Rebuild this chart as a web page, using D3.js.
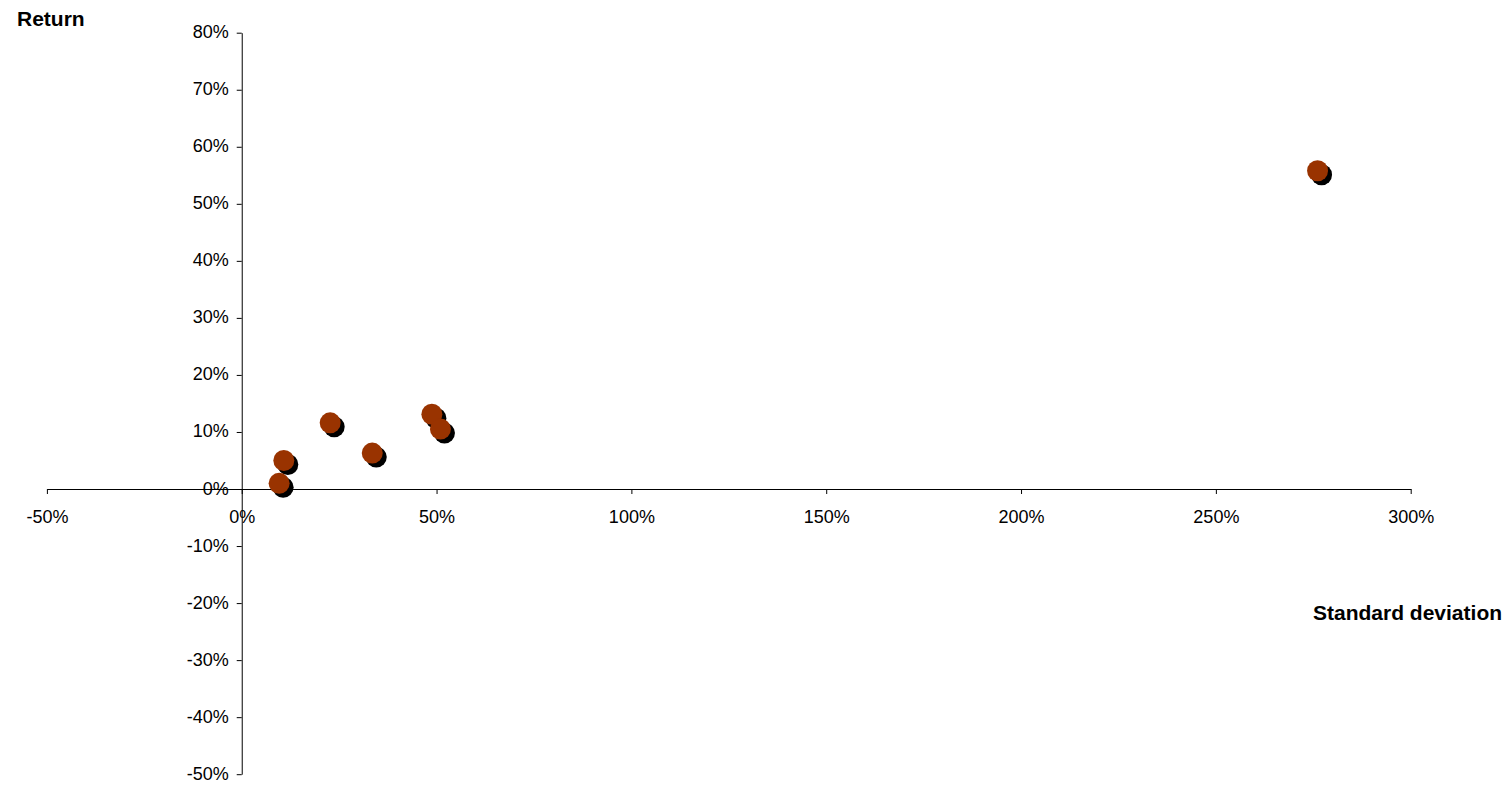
<!DOCTYPE html>
<html lang="en">
<head>
<meta charset="utf-8">
<script src="https://d3js.org/d3.v7.min.js"></script>
<style type="text/css">
body {
	margin: 0;
	background: #fff;
	font-family: "Liberation Sans", Arial, sans-serif;
}
</style>
</head>
<body>
<script type="text/javascript">

// standard deviation (x) and return (y), in percent
var stdDev = [9.6, 10.8, 22.7, 33.5, 48.8, 51.0, 276.1];
var returns = [1.0, 5.0, 11.6, 6.3, 13.1, 10.5, 55.8];

var xTicks = [-50, 0, 50, 100, 150, 200, 250, 300];
var yTicks = [-50, -40, -30, -20, -10, 0, 10, 20, 30, 40, 50, 60, 70, 80];

var width = 1510;
var height = 785;

var x = d3.scaleLinear()
	.domain([-50, 300])
	.range([46.9, 1410.7]);

var y = d3.scaleLinear()
	.domain([-50, 80])
	.range([774.2, 32.7]);

var svg = d3.select("body")
	.append("svg")
	.attr("width", width)
	.attr("height", height);

var fmt = function(d) { return d + "%"; };

// x axis, drawn through y = 0
var xAxis = svg.append("g")
	.attr("transform", "translate(0," + y(0) + ")")
	.call(d3.axisBottom(x).tickValues(xTicks).tickFormat(fmt).tickSizeInner(5).tickSizeOuter(0));

// y axis, drawn through x = 0
var yAxis = svg.append("g")
	.attr("transform", "translate(" + x(0) + ",0)")
	.call(d3.axisLeft(y).tickValues(yTicks).tickFormat(fmt).tickSizeInner(5).tickSizeOuter(0));

[xAxis, yAxis].forEach(function(a) {
	a.select(".domain").attr("stroke", "#000").attr("stroke-width", 1);
	a.selectAll(".tick line").attr("stroke", "#000");
	a.selectAll(".tick text")
		.attr("fill", "#000")
		.style("font-family", "'Liberation Sans', Arial, sans-serif")
		.style("font-size", "18px");
});

xAxis.selectAll(".tick text").attr("y", 0).attr("dy", "34px");
yAxis.selectAll(".tick text").attr("x", -13).attr("dy", "5px");

// points: black shadow then brown marker
var pts = stdDev.map(function(d, i) { return {sd: d, ret: returns[i]}; });

svg.append("g").selectAll("circle")
	.data(pts)
	.enter()
	.append("circle")
	.attr("cx", function(d) { return x(d.sd) + 4; })
	.attr("cy", function(d) { return y(d.ret) + 4; })
	.attr("r", 10.5)
	.attr("fill", "#000");

svg.append("g").selectAll("circle")
	.data(pts)
	.enter()
	.append("circle")
	.attr("cx", function(d) { return x(d.sd); })
	.attr("cy", function(d) { return y(d.ret); })
	.attr("r", 10.5)
	.attr("fill", "#993300");

// axis titles
svg.append("text")
	.attr("x", 17)
	.attr("y", 26)
	.style("font-size", "21px")
	.style("font-weight", "bold")
	.text("Return");

svg.append("text")
	.attr("x", 1313)
	.attr("y", 620)
	.style("font-size", "21px")
	.style("font-weight", "bold")
	.text("Standard deviation");

</script>
</body>
</html>
